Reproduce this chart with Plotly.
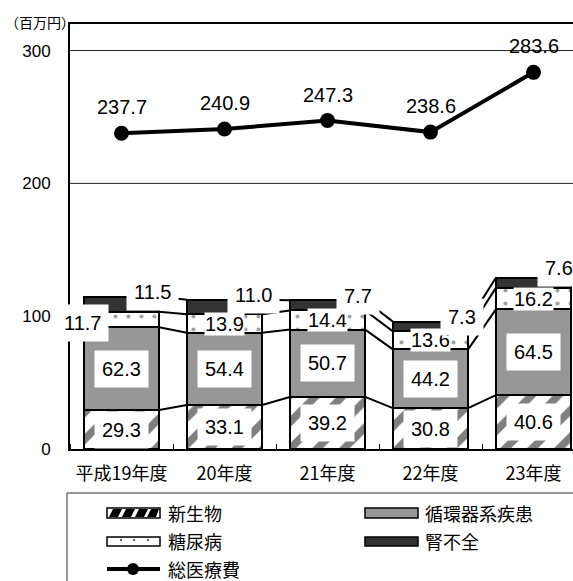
import plotly.graph_objects as go

# Fiscal years (平成19〜23年度)
years = ["平成19年度", "20年度", "21年度", "22年度", "23年度"]

# Medical cost by disease group (百万円)
neoplasm = [29.3, 33.1, 39.2, 30.8, 40.6]        # 新生物
circulatory = [62.3, 54.4, 50.7, 44.2, 64.5]     # 循環器系疾患
diabetes = [11.7, 13.9, 14.4, 13.6, 16.2]        # 糖尿病
renal = [11.5, 11.0, 7.7, 7.3, 7.6]              # 腎不全
total = [237.7, 240.9, 247.3, 238.6, 283.6]      # 総医療費

y_ticks = [0, 100, 200, 300]

NUM_FONT = "Liberation Sans, Arial, sans-serif"
JP_FONT = "Noto Sans CJK JP, sans-serif"

W, H = 573, 581
L, T, B = 70, 24, 132
PLOT_H = H - T - B
CAT_PX = 103
BAR_W = 0.73
x_idx = list(range(len(years)))
x_max = -0.5 + (W - L) / CAT_PX

# label offsets (px) for the 腎不全 values, placed up and right of each bar
RENAL_XSHIFT = [31, 29, 30, 31, 25]
RENAL_YSHIFT = [12, 12, 9, 9, 15]


def px_x(px):
    return (px - L) / (W - L)


def px_y(py):
    return (H - B - py) / PLOT_H


series = [
    ("新生物", neoplasm, dict(color="white", pattern=dict(shape="/", fgcolor="black", bgcolor="white", size=19, solidity=0.4))),
    ("循環器系疾患", circulatory, dict(color="#979797")),
    ("糖尿病", diabetes, dict(color="white", pattern=dict(shape=".", fgcolor="#444", bgcolor="white", size=13, solidity=0.08))),
    ("腎不全", renal, dict(color="#333333")),
]

fig = go.Figure()

# cumulative tops of each stacked segment
tops = []
running = [0.0] * len(years)
for name, vals, marker in series:
    base = running[:]
    running = [b + v for b, v in zip(base, vals)]
    tops.append((base, running[:]))
    fig.add_trace(go.Bar(
        x=x_idx, y=vals, name=name, width=BAR_W,
        marker=dict(line=dict(color="black", width=2), **marker),
        showlegend=False, hoverinfo="skip",
    ))

# series lines joining the segment boundaries of neighbouring bars
for base, top in tops:
    xs, ys = [], []
    for i in range(len(years) - 1):
        xs += [i + BAR_W / 2, i + 1 - BAR_W / 2, None]
        ys += [top[i], top[i + 1], None]
    fig.add_trace(go.Scatter(x=xs, y=ys, mode="lines", line=dict(color="black", width=2),
                             showlegend=False, hoverinfo="skip"))

# total medical cost line
fig.add_trace(go.Scatter(
    x=x_idx, y=total, mode="lines+markers", name="総医療費",
    line=dict(color="black", width=4), marker=dict(color="black", size=15),
    showlegend=False, hoverinfo="skip",
))

ann = []
for i, v in enumerate(total):
    ann.append(dict(x=i, y=v, text=f"{v:.1f}", showarrow=False, yshift=26,
                    font=dict(family=NUM_FONT, size=20, color="black")))

box = dict(bgcolor="white", borderpad=7, showarrow=False, yanchor="middle",
           font=dict(family=NUM_FONT, size=20, color="black"))
for k, (name, vals, _) in enumerate(series):
    base, top = tops[k]
    for i, v in enumerate(vals):
        mid = (base[i] + top[i]) / 2
        a = dict(x=i, y=mid, text=f"{v:.1f}", **box)
        if name == "糖尿病":
            if i == 0:
                a.update(xshift=-39, yshift=-3)
            else:
                a.update(borderpad=0)
        elif name == "腎不全":
            a.update(xshift=RENAL_XSHIFT[i], yshift=RENAL_YSHIFT[i])
        ann.append(a)

# axis unit
ann.append(dict(x=px_x(3), y=px_y(22), xref="paper", yref="paper",
                xanchor="left", yanchor="middle",
                text="（百万円）", showarrow=False,
                font=dict(family=JP_FONT, size=14, color="black")))

shapes = []
# horizontal gridlines
for g in (200, 300):
    shapes.append(dict(type="line", xref="paper", yref="y", x0=0, x1=1, y0=g, y1=g,
                       line=dict(color="#222", width=1), layer="below"))

# legend frame
shapes.append(dict(type="rect", xref="paper", yref="paper",
                   x0=px_x(67), x1=px_x(590), y0=px_y(600), y1=px_y(493),
                   line=dict(color="#333", width=1), fillcolor="rgba(0,0,0,0)"))


def rect(x0, y0, x1, y1, fill, lw=1.5):
    return dict(type="rect", xref="paper", yref="paper",
                x0=px_x(x0), x1=px_x(x1), y0=px_y(y1), y1=px_y(y0),
                fillcolor=fill, line=dict(color="black", width=lw))


# 新生物 symbol: hatched box
shapes.append(rect(107, 508, 160, 518, "white"))
for sx in (109, 122, 135, 147):
    pts = [(sx, 517), (min(sx + 9, 159), 517), (min(sx + 13, 159), 509), (sx + 4, 509)]
    path = "M " + " L ".join(f"{px_x(a)},{px_y(b)}" for a, b in pts) + " Z"
    shapes.append(dict(type="path", xref="paper", yref="paper", path=path,
                       fillcolor="black", line=dict(width=0)))
# 循環器系疾患 symbol
shapes.append(rect(365, 508, 418, 518, "#979797"))
# 糖尿病 symbol: dotted box
shapes.append(rect(107, 537, 160, 546, "white"))
for dx in (121, 134, 148):
    shapes.append(dict(type="circle", xref="paper", yref="paper",
                       x0=px_x(dx - 1), x1=px_x(dx + 1), y0=px_y(541), y1=px_y(539),
                       fillcolor="#333", line=dict(width=0)))
# 腎不全 symbol
shapes.append(rect(365, 537, 418, 546, "#333333"))
# 総医療費 symbol
shapes.append(dict(type="line", xref="paper", yref="paper",
                   x0=px_x(107), x1=px_x(160), y0=px_y(569), y1=px_y(569),
                   line=dict(color="black", width=4)))
shapes.append(dict(type="circle", xref="paper", yref="paper",
                   x0=px_x(127), x1=px_x(139), y0=px_y(575), y1=px_y(563),
                   fillcolor="black", line=dict(width=0)))

legend_text = [
    ("新生物", 166, 513), ("循環器系疾患", 423, 513),
    ("糖尿病", 166, 541), ("腎不全", 423, 541),
    ("総医療費", 166, 569),
]
for txt, lx, ly in legend_text:
    ann.append(dict(x=px_x(lx), y=px_y(ly), xref="paper", yref="paper",
                    xanchor="left", yanchor="middle",
                    text=txt, showarrow=False,
                    font=dict(family=JP_FONT, size=18, color="black")))

fig.update_layout(
    width=W, height=H,
    margin=dict(l=L, r=0, t=T, b=B),
    paper_bgcolor="white", plot_bgcolor="white",
    barmode="stack", bargap=0.27,
    annotations=ann, shapes=shapes,
    xaxis=dict(
        range=[-0.5, x_max], tickmode="array", tickvals=x_idx, ticktext=years,
        showgrid=False, zeroline=False, showline=True, linecolor="black", linewidth=2,
        mirror=True, ticks="", ticklabelstandoff=7,
        tickfont=dict(family=JP_FONT, size=18, color="black"),
        minor=dict(tickmode="linear", tick0=0.5, dtick=1, ticks="inside", ticklen=5,
                   tickcolor="black", tickwidth=1, showgrid=False),
    ),
    yaxis=dict(
        range=[0, 320], tickvals=y_ticks, showgrid=False, zeroline=False,
        showline=True, linecolor="black", linewidth=2, ticks="", ticklabelstandoff=14,
        tickfont=dict(family=NUM_FONT, size=17, color="black"),
    ),
)

fig.write_html("out.html")
